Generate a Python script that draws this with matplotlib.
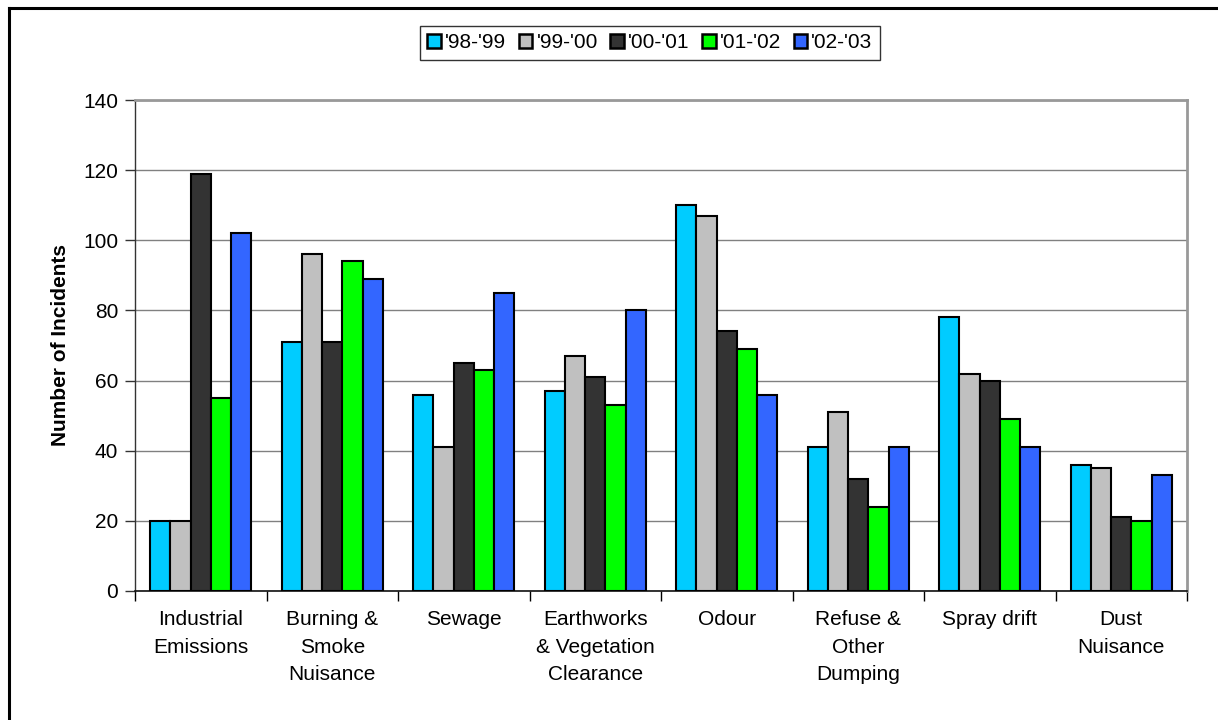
import matplotlib
matplotlib.use("Agg")
import matplotlib.pyplot as plt
import numpy as np
from matplotlib.lines import Line2D
from matplotlib.patches import Patch

plt.rcParams['font.family'] = ['Liberation Sans', 'DejaVu Sans']

categories = ["Industrial\nEmissions", "Burning &\nSmoke\nNuisance", "Sewage",
              "Earthworks\n& Vegetation\nClearance", "Odour", "Refuse &\nOther\nDumping",
              "Spray drift", "Dust\nNuisance"]
series_names = ["'98-'99", "'99-'00", "'00-'01", "'01-'02", "'02-'03"]
v_98_99 = [20, 71, 56, 57, 110, 41, 78, 36]
v_99_00 = [20, 96, 41, 67, 107, 51, 62, 35]
v_00_01 = [119, 71, 65, 61, 74, 32, 60, 21]
v_01_02 = [55, 94, 63, 53, 69, 24, 49, 20]
v_02_03 = [102, 89, 85, 80, 56, 41, 41, 33]
series = [v_98_99, v_99_00, v_00_01, v_01_02, v_02_03]
colors = ["#00CCFF", "#C0C0C0", "#333333", "#00FF00", "#3366FF"]
yticks = [0, 20, 40, 60, 80, 100, 120, 140]

W, H = 1218, 720
FS = 15
fig = plt.figure(figsize=(W / 100, H / 100), dpi=100)
ax = fig.add_axes([135 / W, 1 - 591 / H, (1187 - 135) / W, (591 - 100) / H])

n = len(categories)
x = np.arange(n)
bw = 1 / 6.5
for i, (vals, c) in enumerate(zip(series, colors)):
    offs = (i - 2) * bw
    ax.bar(x + offs, vals, width=bw, color=c, edgecolor="black", linewidth=1.5, zorder=3)

ax.set_xlim(-0.5, n - 0.5)
ax.set_ylim(0, 140)
ax.set_yticks(yticks)
ax.set_yticklabels([str(t) for t in yticks], fontsize=FS)
ax.yaxis.grid(True, color="#808080", linewidth=1.0, zorder=0)
ax.set_axisbelow(True)

ax.set_xticks(x)
ax.set_xticklabels(categories, fontsize=FS, linespacing=1.55, va='top')
ax.tick_params(axis='x', length=0, pad=14)
ax.set_xticks(np.arange(n + 1) - 0.5, minor=True)
ax.tick_params(axis='x', which='minor', length=7, width=1, color="black", direction='out')
ax.tick_params(axis='y', length=7, width=1, color="#333333", direction='out', pad=5)

ax.spines['left'].set_color("#333333")
ax.spines['bottom'].set_color("#111111")
ax.spines['top'].set_color("#999999")
ax.spines['right'].set_color("#999999")
ax.spines['top'].set_linewidth(2)
ax.spines['right'].set_linewidth(2)
ax.spines['left'].set_linewidth(1)
ax.spines['bottom'].set_linewidth(1.2)

ax.set_ylabel("Number of Incidents", fontsize=FS, fontweight='bold')
ax.yaxis.set_label_coords((70 - 135) / (1187 - 135), (591 - 345) / (591 - 100))

handles = [Patch(facecolor=c, edgecolor="black", linewidth=1.8) for c in colors]
leg = fig.legend(handles, series_names, loc='center', bbox_to_anchor=(650 / W, 1 - 43 / H),
                 ncol=5, fontsize=FS, frameon=True, fancybox=False, handlelength=0.65,
                 handleheight=0.65, handletextpad=0.2, columnspacing=0.6, borderpad=0.35,
                 edgecolor="black")
leg.get_frame().set_linewidth(1.0)

# outer chart border (visible at top and left)
fig.add_artist(Line2D([8.5 / W, 8.5 / W], [0, 1 - 7.5 / H], transform=fig.transFigure,
                      color="black", linewidth=2.2))
fig.add_artist(Line2D([8.5 / W, 1], [1 - 7.5 / H, 1 - 7.5 / H], transform=fig.transFigure,
                      color="black", linewidth=2.2))

fig.savefig("out.png", dpi=100)
